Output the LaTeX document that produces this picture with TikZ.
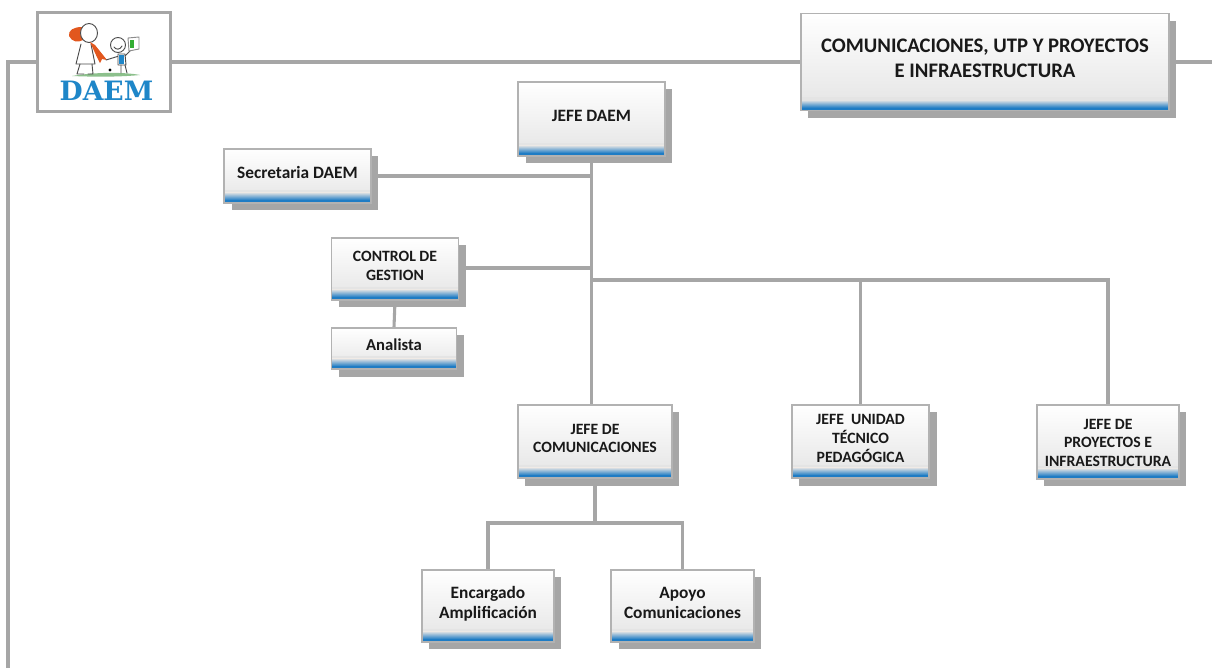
\documentclass[tikz,border=0pt]{standalone}
\usepackage{fontspec}
\setmainfont{Carlito}
\newfontfamily\logofont{DejaVu Serif}
\usetikzlibrary{shadows,backgrounds,calc}
\definecolor{linegray}{HTML}{A6A6A6}
\definecolor{boxedge}{HTML}{B2B2B2}
\definecolor{boxlow}{HTML}{E4E4E4}
\definecolor{bandblue}{HTML}{1F7CC4}
\definecolor{logoblue}{HTML}{1E86C8}
\definecolor{logoorange}{HTML}{E2571E}
\newcommand{\lifted}[2][2.4pt]{\begin{tabular}{@{}c@{}}#2\\[#1]\end{tabular}}
\tikzset{
  orgbox/.style={draw=boxedge,line width=1.1pt,align=center,inner sep=0pt,
    font=\bfseries\fontsize{13}{15.5}\selectfont,text=black!90,
    general shadow={fill=linegray,shadow xshift=5.5pt,shadow yshift=-5.5pt},
    top color=white,bottom color=boxlow,
    path picture={
      \fill[boxlow] ($(path picture bounding box.south west)$) rectangle ($(path picture bounding box.south east)+(0,10pt)$);
      \shade[top color=boxlow,bottom color=bandblue] ($(path picture bounding box.south west)+(0,8pt)$) rectangle ($(path picture bounding box.south east)+(0,2.2pt)$);
      \fill[bandblue] (path picture bounding box.south west) rectangle ($(path picture bounding box.south east)+(0,2.2pt)$);
    }},
  smalltext/.style={font=\bfseries\fontsize{11.8}{14}\selectfont},
  wire/.style={draw=linegray,line width=2.3pt},
  logobox/.style={draw=linegray,line width=2.4pt,fill=white,inner sep=0pt},
  sketch/.style={draw=black!70,line width=.7pt,line join=round,line cap=round}
}
\begin{document}
\begin{tikzpicture}[x=0.75pt,y=-0.75pt]
\useasboundingbox (0,0) rectangle (1212,668);
\node[logobox,minimum width=99.5pt,minimum height=74pt] (logo) at (104,62) {};
\node[orgbox,minimum width=276pt,minimum height=73pt,font=\bfseries\fontsize{15.5}{18.75}\selectfont] (title) at (985,62) {\lifted{COMUNICACIONES, UTP Y PROYECTOS\\E INFRAESTRUCTURA}};
\node[orgbox,minimum width=110pt,minimum height=55.5pt] (jd) at (591.5,119) {\lifted{JEFE DAEM}};
\node[orgbox,minimum width=110pt,minimum height=40.5pt] (sec) at (297.5,176) {\lifted{Secretaria DAEM}};
\node[orgbox,minimum width=95.5pt,minimum height=46.5pt,smalltext] (ctrl) at (395,269) {\lifted{CONTROL DE\\GESTION}};
\node[orgbox,minimum width=94pt,minimum height=31pt,font=\bfseries\fontsize{12.5}{15}\selectfont] (ana) at (394,348.5) {\lifted{Analista}};
\node[orgbox,minimum width=115.5pt,minimum height=55pt,smalltext] (jc) at (595,441.5) {\lifted{JEFE DE\\COMUNICACIONES}};
\node[orgbox,minimum width=103pt,minimum height=55pt,smalltext] (utp) at (860.5,441.5) {\lifted{JEFE\ \ UNIDAD\\TÉCNICO\\PEDAGÓGICA}};
\node[orgbox,minimum width=106.5pt,minimum height=55.5pt,smalltext] (pi) at (1108,442) {\lifted[-3pt]{JEFE DE\\PROYECTOS E\\INFRAESTRUCTURA}};
\node[orgbox,minimum width=99pt,minimum height=54pt] (enc) at (488,606) {\lifted{Encargado\\Amplificación}};
\node[orgbox,minimum width=107pt,minimum height=54pt] (apo) at (682.5,606) {\lifted{Apoyo\\Comunicaciones}};
% free ends and junctions
\coordinate (frameend) at (8,668);
\coordinate (frameright) at (1212,62);
\coordinate (secj) at (591,176);
\coordinate (ctrlj) at (591,268);
\coordinate (branch) at (591,280);
\coordinate (split) at (595,523);
\begin{scope}[on background layer]
\fill[white] (0,0) rectangle (1212,668);
\draw[wire] (frameend) |- (logo.west);
\draw[wire] (logo.east) -- (title.west);
\draw[wire] (title.east) -- (frameright);
\draw[wire] (jd.south) -- (jd.south |- jc.north);
\draw[wire] (sec.east |- secj) -- (secj);
\draw[wire] (ctrl.east |- ctrlj) -- (ctrlj);
\draw[wire] (branch) -| (utp.north);
\draw[wire] (branch) -| (pi.north);
\draw[wire] (ctrl.south) -- (ana.north);
\draw[wire] (jc.south) -- (split);
\draw[wire] (enc.north) |- (split);
\draw[wire] (apo.north) |- (split);
\end{scope}
% logo artwork
\fill[green!45!black!45] (72,76) .. controls (95,72) and (125,72) .. (140,75) .. controls (120,77) and (95,77) .. (72,76);
\fill[logoorange] (69,36) .. controls (68,30) and (74,27) .. (82,27) -- (83,40) .. controls (78,43) and (72,42) .. (69,36);
\draw[sketch,fill=white] (89,33) circle[x radius=8.5,y radius=9.5];
\draw[sketch,fill=white] (81,44) -- (76,64) -- (95,64) -- (91,44);
\draw[sketch] (80,64) -- (77,74) -- (84,74) (92,64) -- (93,74) -- (88,74);
\fill[logoorange] (90,42) -- (95,45) -- (107,60) -- (102,59) -- (100,63) -- (96,55) -- cycle;
\draw[sketch] (106,60) -- (119,56);
\draw[sketch,fill=white] (118,45) circle[radius=7.5];
\draw[sketch] (114,47) .. controls (116,50) and (120,50) .. (122,46);
\draw[sketch,fill=white] (118,54) -- (118,65) -- (126,65) -- (125,54) -- cycle;
\fill[logoblue] (119,55) rectangle (124,64);
\draw[sketch] (121,65) -- (121,73) (125,65) -- (127,73) (125,56) -- (131,50);
\draw[sketch,draw=black!45,fill=white] (128,38) -- (139,37) -- (139,49) -- (129,51) -- cycle;
\fill[green!60!black!80] (130,40) rectangle (134,48);
\fill[black] (110,70) circle[radius=1.6];
\node[font=\logofont\bfseries\fontsize{20}{20}\selectfont,text=logoblue,inner sep=0pt] (daem) at (106.5,91) {DAEM};
\end{tikzpicture}
\end{document}
